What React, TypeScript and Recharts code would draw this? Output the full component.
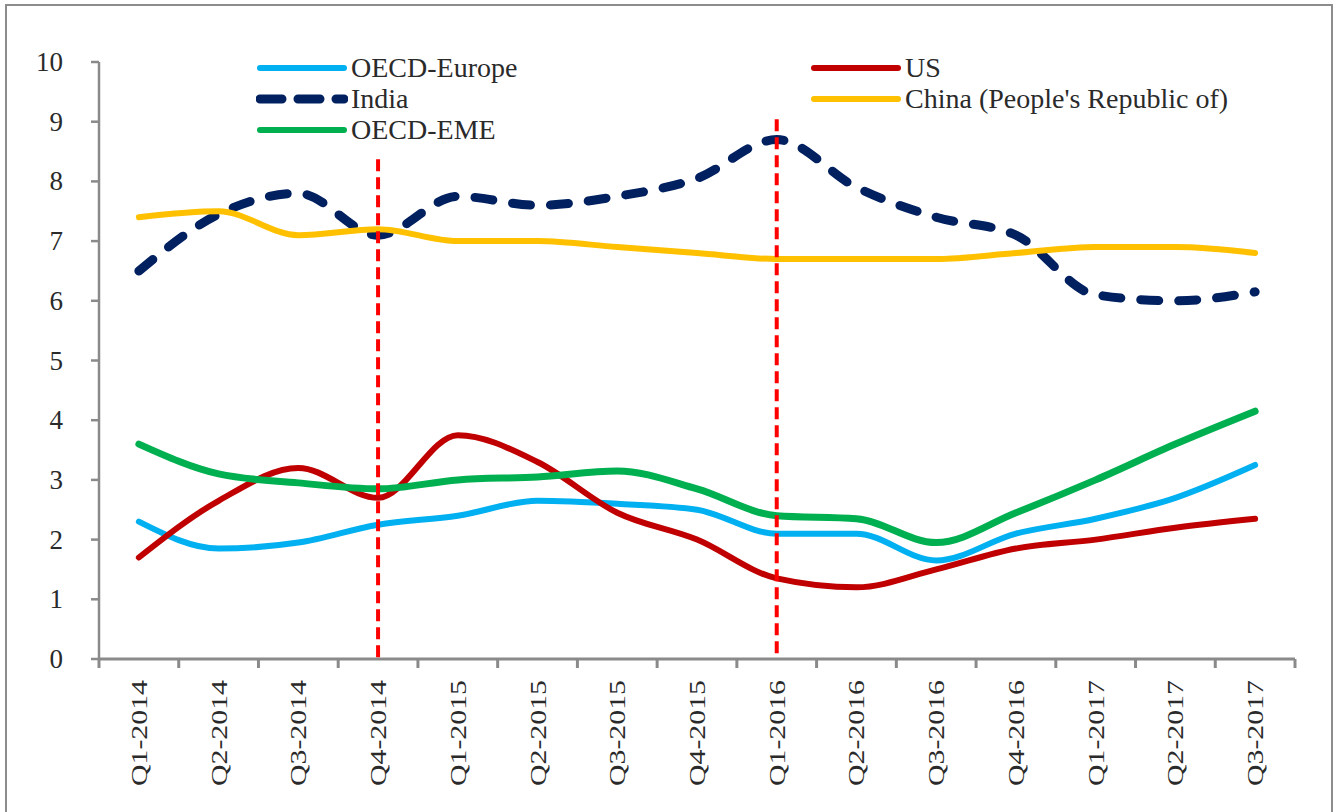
import React from 'react';
import { LineChart, Line, XAxis, YAxis, ReferenceLine, Legend } from 'recharts';

const quarters = [
  'Q1-2014', 'Q2-2014', 'Q3-2014', 'Q4-2014',
  'Q1-2015', 'Q2-2015', 'Q3-2015', 'Q4-2015',
  'Q1-2016', 'Q2-2016', 'Q3-2016', 'Q4-2016',
  'Q1-2017', 'Q2-2017', 'Q3-2017',
];
const oecdEurope = [2.3, 1.85, 1.95, 2.25, 2.4, 2.65, 2.6, 2.5, 2.1, 2.1, 1.65, 2.1, 2.35, 2.7, 3.25];
const us = [1.7, 2.65, 3.2, 2.7, 3.75, 3.3, 2.45, 2.0, 1.35, 1.2, 1.5, 1.85, 2.0, 2.2, 2.35];
const india = [6.5, 7.45, 7.8, 7.1, 7.75, 7.6, 7.75, 8.05, 8.7, 7.9, 7.4, 7.1, 6.1, 6.0, 6.15];
const china = [7.4, 7.5, 7.1, 7.2, 7.0, 7.0, 6.9, 6.8, 6.7, 6.7, 6.7, 6.8, 6.9, 6.9, 6.8];
const oecdEme = [3.6, 3.1, 2.95, 2.85, 3.0, 3.05, 3.15, 2.85, 2.4, 2.35, 1.95, 2.45, 3.0, 3.6, 4.15];
const yTicks = [0, 1, 2, 3, 4, 5, 6, 7, 8, 9, 10];
const refQuarters = ['Q4-2014', 'Q1-2016'];
const refTops = [8.37, 9.04];

const data = quarters.map((q, i) => ({
  q,
  oecdEurope: oecdEurope[i],
  us: us[i],
  india: india[i],
  china: china[i],
  oecdEme: oecdEme[i],
}));

const series = [
  { key: 'oecdEurope', name: 'OECD-Europe', color: '#00B0F0', width: 6 },
  { key: 'us', name: 'US', color: '#C00000', width: 6 },
  { key: 'india', name: 'India', color: '#002060', width: 9, dash: '18 20' },
  { key: 'china', name: "China (People's Republic of)", color: '#FFC000', width: 6 },
  { key: 'oecdEme', name: 'OECD-EME', color: '#00B050', width: 7 },
];

const FONT = "'Times New Roman', 'Liberation Serif', Tinos, serif";
const AXIS_GRAY = '#8a8a8a';

const XTick = (props: any) => {
  const { x, y, payload, index } = props;
  const half = payload && payload.offset ? payload.offset : 39.83;
  const last = index === quarters.length - 1;
  return (
    <g>
      <line x1={x - half} y1={y} x2={x - half} y2={y + 9} stroke={AXIS_GRAY} strokeWidth={3} />
      {last && <line x1={x + half} y1={y} x2={x + half} y2={y + 9} stroke={AXIS_GRAY} strokeWidth={3} />}
      <text
        transform={`translate(${x}, ${y + 21}) rotate(-90)`}
        textAnchor="end"
        dominantBaseline="central"
        fontFamily={FONT}
        style={{ fontFamily: FONT, fontSize: 24, fill: '#2a2a2a' }}
        textLength={106}
        lengthAdjust="spacingAndGlyphs"
      >
        {payload.value}
      </text>
    </g>
  );
};

const YTick = (props: any) => {
  const { x, y, payload } = props;
  return (
    <text
      x={x}
      y={y}
      textAnchor="end"
      dominantBaseline="central"
      fontFamily={FONT}
      style={{ fontFamily: FONT, fontSize: 27, fill: '#2a2a2a' }}
    >
      {payload.value}
    </text>
  );
};

const LegendContent = (props: any) => {
  const payload = [...(props.payload || [])].sort(
    (a: any, b: any) =>
      series.findIndex((s) => s.key === a.dataKey) - series.findIndex((s) => s.key === b.dataKey)
  );
  return (
    <div
      style={{
        display: 'grid',
        gridTemplateColumns: '554px 440px',
        fontFamily: FONT,
        fontSize: 28,
        color: '#2a2a2a',
        lineHeight: '31px',
      }}
    >
      {payload.map((p: any) => {
        const s = series.find((d) => d.key === p.dataKey) || series[0];
        return (
          <div key={s.key} style={{ display: 'flex', alignItems: 'center', height: 31, whiteSpace: 'nowrap' }}>
            <svg width={92} height={12} style={{ marginRight: 3 }}>
              <line
                x1={4}
                y1={6}
                x2={88}
                y2={6}
                stroke={s.color}
                strokeWidth={s.dash ? 9 : 6}
                strokeLinecap="round"
                strokeDasharray={s.dash ? '22 16' : undefined}
              />
            </svg>
            <span>{p.value}</span>
          </div>
        );
      })}
    </div>
  );
};

export default function App() {
  return (
    <div style={{ position: 'absolute', left: 0, top: 0, width: 1338, height: 812, background: '#fff', overflow: 'hidden' }}>
      <div
        style={{
          position: 'absolute',
          left: 5,
          top: 4,
          width: 1328,
          height: 830,
          border: '2px solid #8c8c8c',
          boxSizing: 'border-box',
        }}
      />
      <div style={{ position: 'absolute', left: 0, top: 0 }}>
        <LineChart width={1338} height={812} data={data} margin={{ top: 62, right: 43, bottom: 0, left: 0 }}>
          <XAxis
            dataKey="q"
            scale="band"
            height={153}
            interval={0}
            tickSize={0}
            tickMargin={0}
            tickLine={false}
            axisLine={{ stroke: AXIS_GRAY, strokeWidth: 3 }}
            tick={<XTick />}
          />
          <YAxis
            width={99}
            domain={[0, 10]}
            ticks={yTicks}
            interval={0}
            tickSize={8}
            tickMargin={28}
            axisLine={{ stroke: AXIS_GRAY, strokeWidth: 2.5 }}
            tickLine={{ stroke: AXIS_GRAY, strokeWidth: 2.5 }}
            tick={<YTick />}
          />
          <Legend
            layout="vertical"
            align="center"
            verticalAlign="middle"
            wrapperStyle={{ left: 256, top: 52, width: 1000 }}
            content={<LegendContent />}
          />
          {series.map((s) => (
            <Line
              key={s.key}
              dataKey={s.key}
              name={s.name}
              type="monotone"
              stroke={s.color}
              strokeWidth={s.width}
              strokeDasharray={s.dash}
              strokeLinecap="round"
              dot={false}
              activeDot={false}
              isAnimationActive={false}
            />
          ))}
          {refQuarters.map((rq, i) => (
            <ReferenceLine
              key={rq}
              segment={[{ x: rq, y: refTops[i] }, { x: rq, y: 0 }]}
              stroke="#FF0000"
              strokeWidth={4}
              strokeDasharray="12 6"
              ifOverflow="visible"
              zIndex={900}
            />
          ))}
        </LineChart>
      </div>
    </div>
  );
}
